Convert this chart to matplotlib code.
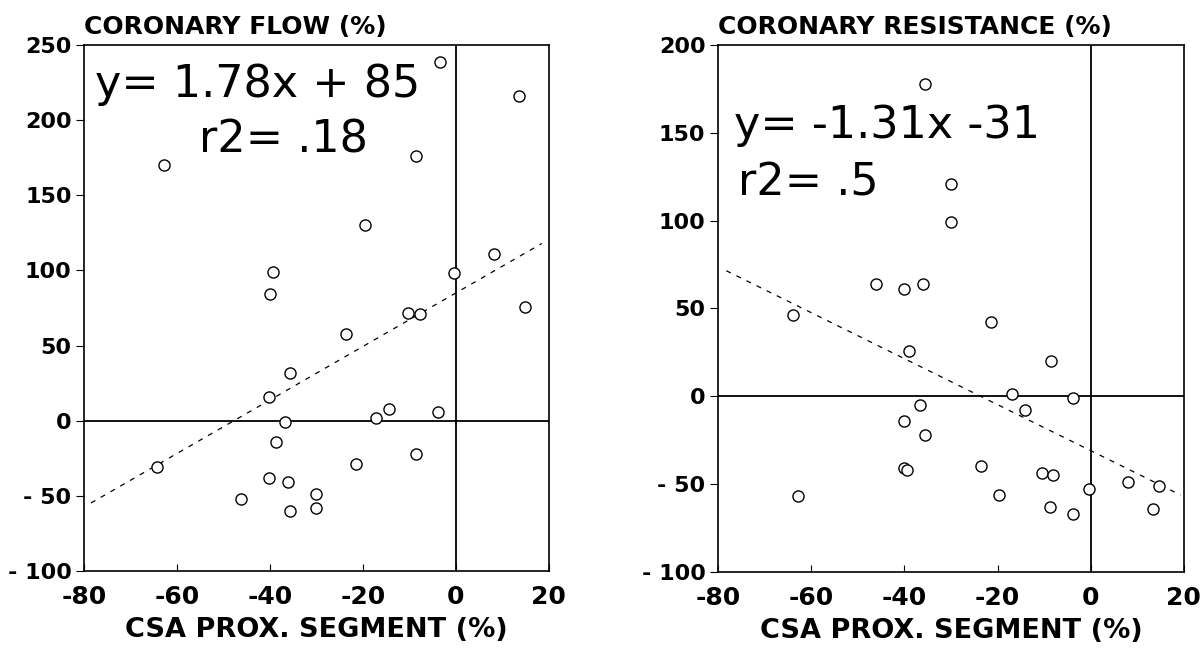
import matplotlib
matplotlib.use("Agg")
import matplotlib.pyplot as plt
import numpy as np

plt.rcParams['font.family'] = ['DejaVu Sans']
plt.rcParams['axes.unicode_minus'] = False

# CSA change of the proximal segment (%) vs coronary flow change (%)
flow_x = [-3.5, 13.5, -62.8, -8.6, -19.6, 8.2, -39.3, -0.3, -40.0, 14.9, -10.4, -7.8,
          -23.6, -35.7, -40.1, -14.3, -17.1, -3.8, -36.8, -38.8, -8.6, -21.5, -64.2,
          -40.1, -36.1, -30.0, -46.3, -30.0, -35.7]
flow_y = [239, 216, 170, 176, 130, 111, 99, 98, 84, 76, 72, 71,
          58, 32, 16, 8, 2, 6, -1, -14, -22, -29, -31,
          -38, -41, -49, -52, -58, -60]

# CSA change vs coronary resistance change (%)
res_x = [-35.6, -29.9, -30.0, -46.1, -40.0, -36.0, -63.9, -21.3,
         -38.9, -8.5, -16.9, -3.8, -36.7, -14.1, -40.1, -35.5, -23.5, -40.1, -39.5,
         -10.5, -8.0, 8.0, 14.6, -0.4, -19.6, -62.8, -8.7, 13.3, -3.8]
res_y = [178, 121, 99, 64, 61, 64, 46, 42,
         26, 20, 1, -1, -5, -8, -14, -22, -40, -41, -42,
         -44, -45, -49, -51, -53, -56, -57, -63, -64, -67]

xticks = [-80, -60, -40, -20, 0, 20]
flow_yticks = [-100, -50, 0, 50, 100, 150, 200, 250]
flow_ylabels = ['- 100', '- 50', '0', '50', '100', '150', '200', '250']
res_yticks = [-100, -50, 0, 50, 100, 150, 200]
res_ylabels = ['- 100', '- 50', '0', '50', '100', '150', '200']

fig = plt.figure(figsize=(12.04, 6.52), dpi=100)
ax1 = fig.add_axes([0.0698, 0.1242, 0.386, 0.8068])
ax2 = fig.add_axes([0.5963, 0.1230, 0.387, 0.8080])


def panel(ax, x, y, slope, icpt, x0, x1, yticks, ylabels, title):
    ax.axhline(0, color='k', lw=1.3, zorder=1)
    ax.axvline(0, color='k', lw=1.3, zorder=1)
    lx = np.array([x0, x1])
    ax.plot(lx, slope * lx + icpt, color='k', lw=0.9, ls=(0, (4, 5)), zorder=2)
    ax.plot(x, y, 'o', ms=8, mfc='white', mec='k', mew=1.0, zorder=3)
    ax.set_xlim(-80, 20)
    ax.set_ylim(yticks[0], yticks[-1])
    ax.set_xticks(xticks)
    ax.set_yticks(yticks)
    ax.set_yticklabels(ylabels)
    ax.tick_params(axis='x', direction='in', length=5, pad=10, labelsize=18)
    ax.tick_params(axis='y', direction='out', length=6, pad=3, labelsize=16)
    for lab in ax.get_xticklabels() + ax.get_yticklabels():
        lab.set_fontweight('bold')
    for s in ax.spines.values():
        s.set_linewidth(1.2)
    ax.set_title(title, loc='left', fontsize=18, fontweight='bold', pad=8)
    ax.set_xlabel('CSA PROX. SEGMENT (%)', fontsize=19.5, fontweight='bold', labelpad=6)


panel(ax1, flow_x, flow_y, 1.78, 85, -78.5, 18.5, flow_yticks, flow_ylabels,
      'CORONARY FLOW (%)')
panel(ax2, res_x, res_y, -1.31, -31, -78.2, 19.3, res_yticks, res_ylabels,
      'CORONARY RESISTANCE (%)')

ax1.text(0.024, 0.901, 'y= 1.78x + 85', transform=ax1.transAxes, fontsize=32,
         ha='left', va='baseline')
ax1.text(0.43, 0.796, 'r2= .18', transform=ax1.transAxes, fontsize=32,
         ha='center', va='baseline')
ax2.text(0.034, 0.823, 'y= -1.31x -31', transform=ax2.transAxes, fontsize=32,
         ha='left', va='baseline')
ax2.text(0.043, 0.715, 'r2= .5', transform=ax2.transAxes, fontsize=32,
         ha='left', va='baseline')

fig.savefig('out.png', dpi=100)
